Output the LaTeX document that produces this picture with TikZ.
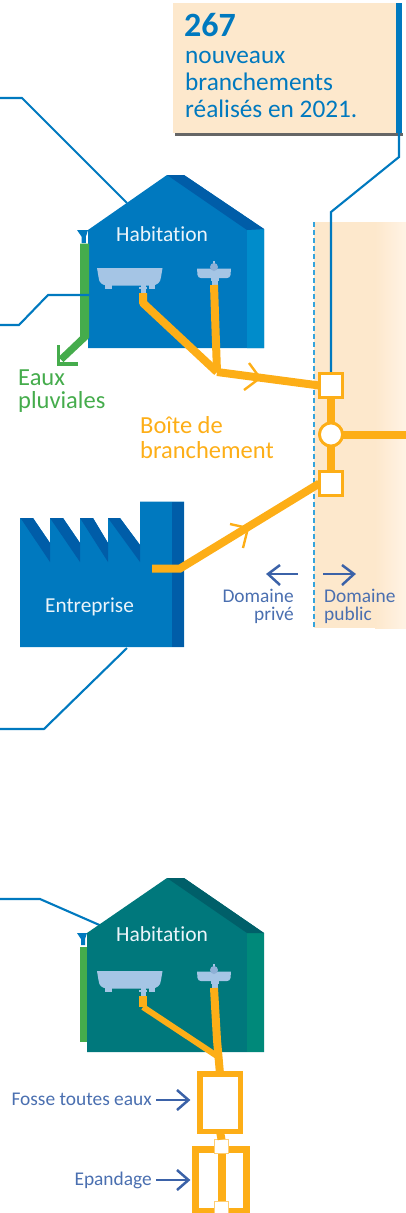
\documentclass[tikz,border=0pt]{standalone}
\usepackage{fontspec}
\setmainfont{Carlito}[Ligatures={NoCommon,NoRequired,NoContextual}]
\definecolor{hblue}{HTML}{0079BF}
\definecolor{hband}{HTML}{008CCB}
\definecolor{hdark}{HTML}{005DA8}
\definecolor{tealm}{HTML}{00787C}
\definecolor{tealb}{HTML}{00897A}
\definecolor{teald}{HTML}{005F69}
\definecolor{pipeo}{HTML}{FDAE17}
\definecolor{greenp}{HTML}{45AC4C}
\definecolor{peach}{HTML}{FDE8CC}
\definecolor{peachl}{HTML}{FFF3E5}
\definecolor{fixt}{HTML}{A5C5E5}
\definecolor{fixtd}{HTML}{8FB0D6}
\definecolor{navy}{HTML}{3B62A8}
\definecolor{lbl}{HTML}{4A6FB0}
\definecolor{dashb}{HTML}{35A4DC}
\tikzset{
  leader/.style={draw=hblue,line width=2.1pt,line join=miter},
  pipe/.style={draw=pipeo,line width=8pt,line join=round},
  chevron/.style={draw=pipeo,line width=2.4pt},
  harrow/.style={draw=navy,line width=2.5pt},
  regard/.style={draw=pipeo,fill=white,line width=2.8pt,minimum size=23.5pt,inner sep=0pt,outer sep=0pt},
  wtxt/.style={inner sep=0pt,text=white!92!hblue,anchor=base west},
  calltxt/.style={inner sep=0pt,anchor=base west,text=hblue,font=\fontsize{25.3}{27}\selectfont},
  biglab/.style={inner sep=0pt,anchor=base west,font=\fontsize{24.5}{26}\selectfont},
  domlab/.style={inner sep=0pt,text=lbl,font=\fontsize{19.4}{20}\selectfont},
  smallsq/.style={draw=pipeo!60!white,fill=white,line width=0.8pt,minimum size=14pt,inner sep=0pt,outer sep=0pt},
}
\newcommand{\fixtures}[1]{%
  \begin{scope}[yshift=#1]
    % bath
    \fill[fixt] (97,268) -- (162.5,268) -- (161,277) .. controls (160.5,283) and (157,285) .. (152,285.5) -- (107,285.5) .. controls (102,285) and (99,283) .. (98.5,277) -- cycle;
    \fill[fixt] (105,285) rectangle (111.5,289);
    \fill[fixt] (148.5,285) rectangle (155,288.5);
    \fill[fixt] (140.5,285) rectangle (145.5,294);
    \fill[fixt] (139,287) rectangle (147,289);
    % basin
    \fill[fixt] (197,268.5) -- (231,268.5) -- (230.5,275) .. controls (230,277) and (229,278) .. (227,278) -- (201,278) .. controls (199,278) and (198,277) .. (197.5,275) -- cycle;
    \fill[fixt] (213.2,261) rectangle (214.8,265);
    \fill[fixtd] (214,267) circle (4);
    \fill[fixt] (210.5,278) rectangle (218.5,280.5);
    \fill[fixt] (211.5,280) rectangle (217.5,286);
  \end{scope}}
\begin{document}
\begin{tikzpicture}[x=1pt,y=-1pt,line cap=butt]
\useasboundingbox (0,0) rectangle (406,1213);
% public domain band
\fill[peach] (314,222) rectangle (375,628);
\fill[left color=peach,right color=peachl] (375,222) rectangle (406,628);
\draw[dashb,line width=1.3pt,dash pattern=on 4.5pt off 3.5pt] (314,222) -- (314,628);
% callout
\fill[black!60] (175,133) rectangle (402.5,135.5);
\fill[peach] (173,3) rectangle (402,133);
\fill[hblue] (396,3) rectangle (402,133);
\node[inner sep=0pt,anchor=base west,text=hblue,font=\bfseries\fontsize{34}{36}\selectfont] (n267) at (184,36.5) {267};
\node[calltxt] (t1) at (185,63.5) {nouveaux};
\node[calltxt] (t2) at (185,90) {branchements};
\node[calltxt] (t3) at (185,117) {réalisés en 2021.};
% named points
\coordinate (cA) at (399,133);
\coordinate (cAa) at (399,157);
\coordinate (cAb) at (331,212);
\coordinate (L1a) at (0,98); \coordinate (L1b) at (22,98); \coordinate (L1c) at (127,203);
\coordinate (L2a) at (0,325); \coordinate (L2b) at (19,325); \coordinate (L2c) at (48,295); \coordinate (L2d) at (89,295);
\coordinate (L3a) at (0,729); \coordinate (L3b) at (44,729); \coordinate (L3c) at (127,648);
\coordinate (L4a) at (0,899); \coordinate (L4b) at (40,899); \coordinate (L4c) at (104,927);
\draw[leader] (L1a) -- (L1b) -- (L1c);
\draw[leader] (L3a) -- (L3b) -- (L3c);
\draw[leader] (L4a) -- (L4b) -- (L4c);
% house 1
\fill[hblue] (88,230) -- (167,175) -- (184,175) -- (264,229) -- (264,348) -- (88,348) -- cycle;
\fill[hband] (247,230) -- (264,229) -- (264,348) -- (247,348) -- cycle;
\fill[hdark] (167,175) -- (184,175) -- (264,229) -- (247,230) -- cycle;
\fixtures{0pt}
\fill[hblue] (77,230) -- (88,230) -- (86,236.5) -- (86,243) -- (81.5,243) -- (81.5,236.5) -- cycle;
\fill[white] (86,236) rectangle (87.5,243);
\fill[hblue] (82,236) rectangle (86,241.5);
\fill[greenp] (80,243.5) -- (89,243.5) -- (89,338) -- (63.5,362) -- (58.5,357) -- (80,336.5) -- cycle;
\draw[greenp,line width=3.4pt] (58.5,345) -- (58.5,364) -- (78,364);
\draw[leader] (L2a) -- (L2b) -- (L2c) -- (L2d);
\node[wtxt,font=\fontsize{21.5}{24}\selectfont] (hab1) at (116,241) {Habitation};
% pipes house 1
\node[regard] (b1) at (331,385.5) {};
\node[regard,circle,minimum size=23pt] (b0) at (331,434.5) {};
\node[regard] (b2) at (331,483.5) {};
\coordinate (p1a) at (143,293); \coordinate (p1b) at (143,303); \coordinate (p1c) at (217,372);
\coordinate (p2a) at (214,285);
\coordinate (pE) at (406,434.5);
\draw[pipe] (p1a) -- (p1b) -- (p1c);
\draw[pipe] (p2a) -- (p1c);
\draw[pipe] (p1c) -- (b1.west);
\draw[chevron] (249,363) -- (260,378) -- (244,390);
\draw[leader] (cA) -- (cAa) -- (cAb) -- (b1.north);
\draw[pipe] (b1.south) -- (b0.north);
\draw[pipe] (b0.south) -- (b2.north);
\draw[pipe] (b0.east) -- (pE);
% factory
\fill[hblue] (20,518) -- (33,518) -- (50,543) -- (50,518) -- (63,518) -- (80,543) -- (80,518) -- (93,518) -- (108,543) -- (108,518) -- (120,518) -- (140,545) -- (140,501.5) -- (184,501.5) -- (184,647) -- (20,647) -- cycle;
\fill[hdark] (172,501.5) rectangle (184,647);
\fill[hdark] (20.5,518) -- (33,518) -- (50,543) -- (50,562) -- cycle;
\fill[hdark] (50,518) -- (63,518) -- (80,543) -- (80,562) -- cycle;
\fill[hdark] (80,518) -- (93,518) -- (108,543) -- (108,562) -- cycle;
\fill[hdark] (108,518) -- (120,518) -- (140,545) -- (140,562) -- cycle;
\node[wtxt,font=\fontsize{21.3}{24}\selectfont] (ent) at (45,612) {Entreprise};
\coordinate (p3a) at (152,568.5); \coordinate (p3b) at (180,568.5);
\draw[pipe,line join=miter] (p3a) -- (p3b) -- (b2.west);
\draw[chevron] (230,524) -- (248,528) -- (243,548);
% regards above pipes
\node[regard] at (b1) {};
\node[regard,circle,minimum size=23pt] at (b0) {};
\node[regard] at (b2) {};
% labels
\node[biglab,text=greenp] (ep1) at (18,385) {Eaux};
\node[biglab,text=greenp] (ep2) at (18,408) {pluviales};
\node[biglab,text=pipeo] (bo1) at (140,433) {Boîte de};
\node[biglab,text=pipeo] (bo2) at (140,458) {branchement};
% domain labels
\coordinate (dl1) at (298,574); \coordinate (dl2) at (268,574);
\coordinate (dr1) at (323,574); \coordinate (dr2) at (354,574);
\draw[harrow] (dl1) -- (dl2);
\draw[harrow] (280,565) -- (dl2) -- (280,585);
\draw[harrow] (dr1) -- (dr2);
\draw[harrow] (342,565) -- (dr2) -- (342,585);
\node[domlab,anchor=base east] (dp1) at (294,602) {Domaine};
\node[domlab,anchor=base east] (dp2) at (294,620.5) {privé};
\node[domlab,anchor=base west] (dq1) at (324,602) {Domaine};
\node[domlab,anchor=base west] (dq2) at (324,620.5) {public};
% house 2
\fill[tealm] (87,933) -- (167,878) -- (184,878) -- (264,933) -- (264,1052) -- (87,1052) -- cycle;
\fill[tealb] (247,933) -- (264,933) -- (264,1052) -- (247,1052) -- cycle;
\fill[teald] (167,878) -- (184,878) -- (264,933) -- (247,933) -- cycle;
\fixtures{-703pt}
\fill[hblue] (77,933) -- (87,933) -- (85,939) -- (85,945) -- (81,945) -- (81,939) -- cycle;
\fill[greenp] (79.5,947) rectangle (87,1042);
\node[wtxt,font=\fontsize{21.5}{24}\selectfont] (hab2) at (116,941) {Habitation};
\coordinate (q1a) at (143,996); \coordinate (q1b) at (143,1007); \coordinate (q1c) at (217,1056);
\coordinate (q2a) at (214,988);
\node[draw=pipeo,fill=white,line width=5.5pt,minimum width=40.5pt,minimum height=57.5pt,inner sep=0pt,outer sep=0pt] (fosse) at (220,1102.5) {};
\draw[pipe] (q1a) -- (q1b);
\draw[pipe,line width=6pt] (q1b) -- (q1c);
\draw[pipe] (q2a) -- (217,1040) -- (fosse.north);
% epandage
\node[draw=pipeo,fill=white,line width=7pt,minimum width=51pt,minimum height=62pt,inner sep=0pt,outer sep=0pt] (epand) at (221,1180) {};
\node[smallsq] (s1) at (221.5,1146.5) {};
\node[smallsq] (s2) at (221.5,1208) {};
\draw[pipe] (fosse.south) -- (s1.north);
\draw[pipe] (s1.south) -- (s2.north);
% lower labels
\node[domlab,anchor=base east] (fte) at (152,1105) {Fosse toutes eaux};
\node[domlab,anchor=base east] (epd) at (152,1185) {Epandage};
\coordinate (fa) at (156,1100); \coordinate (fb) at (188.5,1100);
\coordinate (ea) at (156,1180); \coordinate (eb) at (188.5,1180);
\draw[harrow] (fa) -- (fb);
\draw[harrow] (177,1090) -- (fb) -- (177,1110);
\draw[harrow] (ea) -- (eb);
\draw[harrow] (177,1170) -- (eb) -- (177,1190);
\end{tikzpicture}
\end{document}
